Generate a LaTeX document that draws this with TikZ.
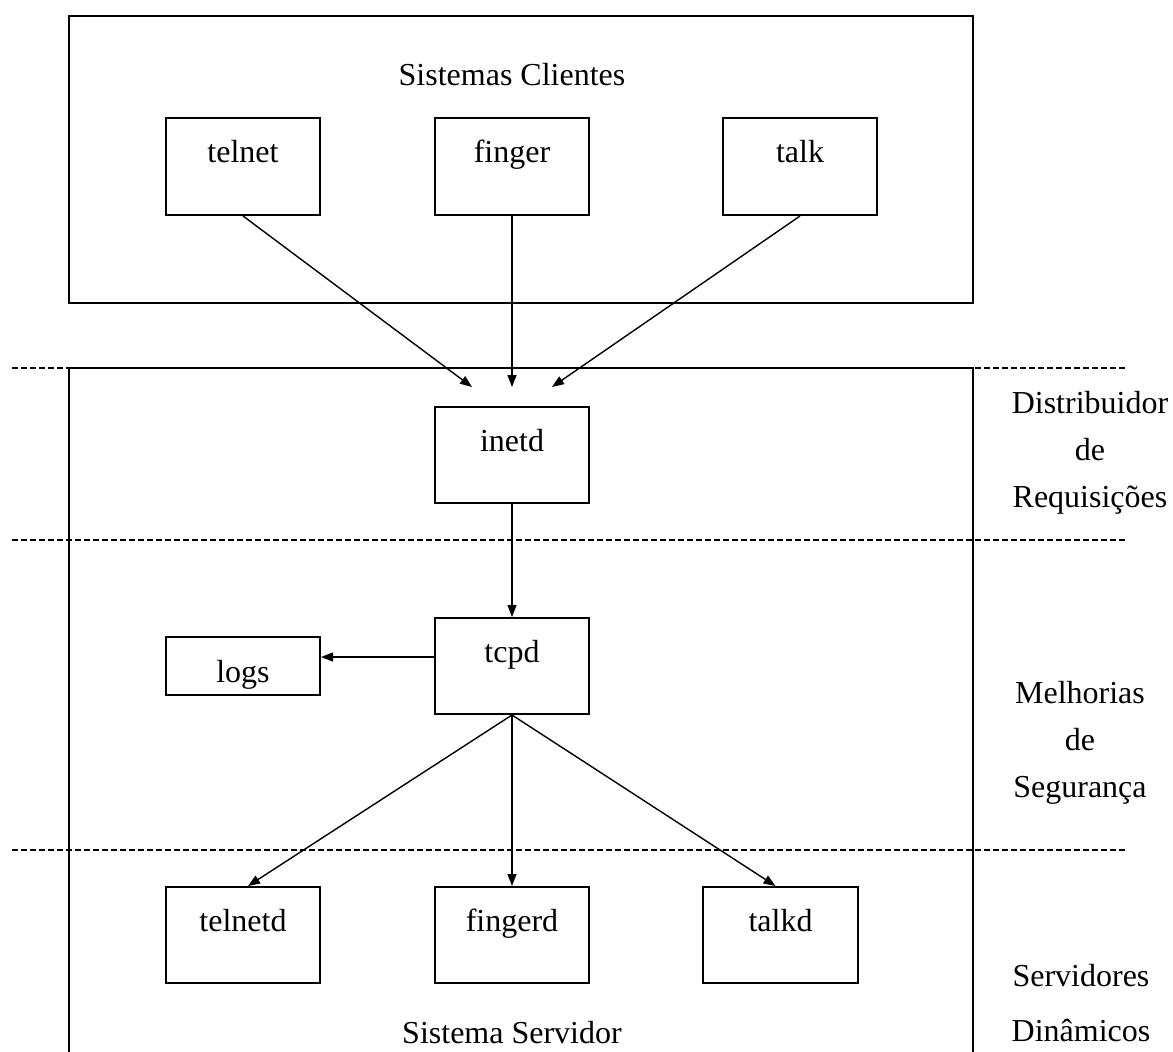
\documentclass[tikz,border=0pt]{standalone}
\usepackage{fontspec}
\setmainfont{Liberation Serif}
\usetikzlibrary{arrows.meta}
\begin{document}
\begin{tikzpicture}[x=1pt,y=-1pt,
  txt/.style={font=\fontsize{32}{47}\selectfont},
  box/.style={txt,draw,line width=2pt,inner sep=0pt,minimum width=154pt,text height=44pt,text depth=52pt},
  frame/.style={draw,line width=2.8pt},
  arr/.style={line width=1.4pt,-{Triangle[length=12pt,width=9pt]}},
  sep/.style={line width=1.4pt,dash pattern=on 6pt off 3pt},
  side/.style={txt,align=center,anchor=north,inner sep=0pt}]
\useasboundingbox (0,0) rectangle (1173,1052);
% client frame
\node[frame,inner sep=0pt,minimum width=904pt,minimum height=287pt] (clients) at (521,159.5) {};
\node[txt,anchor=base] (ctitle) at (512,85) {Sistemas Clientes};
% server frame
\draw[frame] (69,1052) -- (69,368) -- (973,368) -- (973,1052);
\node[txt,anchor=base] (stitle) at (512,1043) {Sistema Servidor};
% separators
\draw[sep] (12,368) -- (1125,368);
\draw[sep] (12,540) -- (1125,540);
\draw[sep] (12,850) -- (1125,850);
% boxes
\node[box,text depth=53pt] (telnet) at (243,166.5) {telnet};
\node[box,text depth=53pt] (finger) at (512,166.5) {finger};
\node[box,text depth=53pt] (talk) at (800,166.5) {talk};
\node[box] (inetd) at (512,455) {inetd};
\node[box] (tcpd) at (512,666) {tcpd};
\node[box,text height=45pt,text depth=13pt] (logs) at (243,666) {logs};
\node[box] (telnetd) at (243,935) {telnetd};
\node[box] (fingerd) at (512,935) {fingerd};
\node[box,minimum width=155pt] (talkd) at (780.5,935) {talkd};
% side labels
\node[side] (lab1) at (1090,391) {Distribuidor\\de\\Requisições};
\node[side] (lab2) at (1080,681) {Melhorias\\de\\Segurança};
\node[side] (lab3) at (1081,964) {Servidores\\[8pt]Dinâmicos};
% connectors
\coordinate (in1) at (472,387);
\coordinate (in2) at (512,387);
\coordinate (in3) at (552,387);
\draw[arr] (telnet.south) -- (in1);
\draw[arr] (finger.south) -- (in2);
\draw[arr] (talk.south) -- (in3);
\draw[arr] (inetd.south) -- (tcpd.north);
\draw[arr] ([yshift=9pt]tcpd.west) -- ([yshift=9pt]logs.east);
\draw[arr] (tcpd.south) -- ([xshift=5pt]telnetd.north);
\draw[arr] (tcpd.south) -- (fingerd.north);
\draw[arr] (tcpd.south) -- ([xshift=-5pt]talkd.north);
\end{tikzpicture}
\end{document}
